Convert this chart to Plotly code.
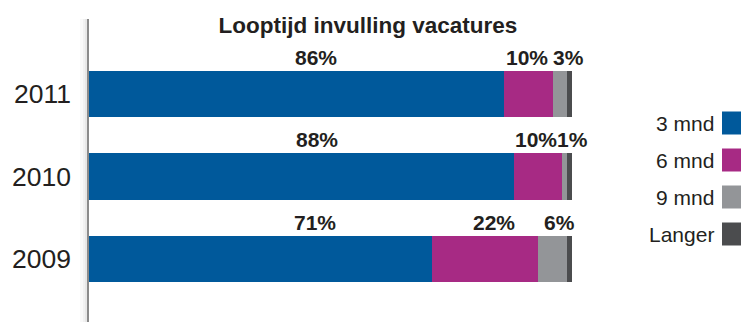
import plotly.graph_objects as go

# Data
years = ["2009", "2010", "2011"]
series_names = ["3 mnd", "6 mnd", "9 mnd", "Langer"]
v_3mnd = [71, 88, 86]
v_6mnd = [22, 10, 10]
v_9mnd = [6, 1, 3]
v_langer = [1, 1, 1]
colors = ["#00599B", "#A72A84", "#939598", "#4B4C4E"]

series_values = [v_3mnd, v_6mnd, v_9mnd, v_langer]

TEXT = "#231F20"
FONT = "Liberation Sans, Arial, Helvetica, sans-serif"
W, H = 748, 322
ML = 89
PLOT_W = W - ML

fig = go.Figure()
for name, vals, col in zip(series_names, series_values, colors):
    fig.add_trace(go.Bar(
        y=years, x=vals, name=name, orientation="h",
        marker=dict(color=col, line=dict(width=0)),
        width=0.565, showlegend=False, hoverinfo="skip",
    ))

# Percentage labels above the first three segments of each bar
label_shift = {
    "2011": [19, -2, 9],
    "2010": [15, -2, 8],
    "2009": [55, 9, 7],
}
annotations = []
for i, yr in enumerate(years):
    start = 0
    for k in range(3):
        v = series_values[k][i]
        annotations.append(dict(
            x=start + v / 2, y=i, xref="x", yref="y",
            text=f"<b>{v}%</b>", showarrow=False,
            xshift=label_shift[yr][k], yshift=37,
            font=dict(family=FONT, size=21, color=TEXT),
        ))
        start += v

# Legend: text with a colour swatch on its right
shapes = []
legend_y = [123, 160, 197, 234]
for name, col, py in zip(series_names, colors, legend_y):
    annotations.append(dict(
        x=(716 - ML) / PLOT_W, y=1 - py / H, xref="paper", yref="paper",
        text=name, showarrow=False, xanchor="right", yanchor="middle",
        font=dict(family=FONT, size=21, color=TEXT),
    ))
    shapes.append(dict(
        type="rect", xref="paper", yref="paper",
        x0=(722 - ML) / PLOT_W, x1=(741 - ML) / PLOT_W,
        y0=1 - (py + 11.5) / H, y1=1 - (py - 11.5) / H,
        fillcolor=col, line=dict(width=0), layer="above",
    ))

# Vertical axis line with a soft shadow on its left
axis_top = 1 - 19 / H
for x0, x1, col in [(-9, -2, "rgba(0,0,0,0.025)"), (-6, -2, "rgba(0,0,0,0.03)"),
                    (-4, -2, "rgba(0,0,0,0.04)"), (-2, 0, "#8A8A8A")]:
    shapes.append(dict(
        type="rect", xref="paper", yref="paper",
        x0=x0 / PLOT_W, x1=x1 / PLOT_W, y0=0, y1=axis_top,
        fillcolor=col, line=dict(width=0), layer="above",
    ))

px_per_unit = 82.5
fig.update_layout(
    width=W, height=H,
    margin=dict(l=ML, r=0, t=0, b=0),
    barmode="stack", bargap=0,
    plot_bgcolor="white", paper_bgcolor="white",
    title=dict(
        text="<b>Looptijd invulling vacatures</b>",
        x=368 / W, xref="container", xanchor="center",
        y=1 - 25 / H, yref="container", yanchor="middle",
        font=dict(family=FONT, size=22.5, color=TEXT),
    ),
    xaxis=dict(range=[0, PLOT_W / 483 * 100], visible=False, fixedrange=True),
    yaxis=dict(
        type="category", categoryorder="array", categoryarray=years,
        range=[-(H - 259) / px_per_unit, -(H - 259) / px_per_unit + H / px_per_unit],
        showgrid=False, showline=False, zeroline=False, ticks="",
        ticklabelstandoff=17,
        tickfont=dict(family=FONT, size=26.5, color=TEXT),
    ),
    annotations=annotations,
    shapes=shapes,
)

fig.write_html("out.html")
